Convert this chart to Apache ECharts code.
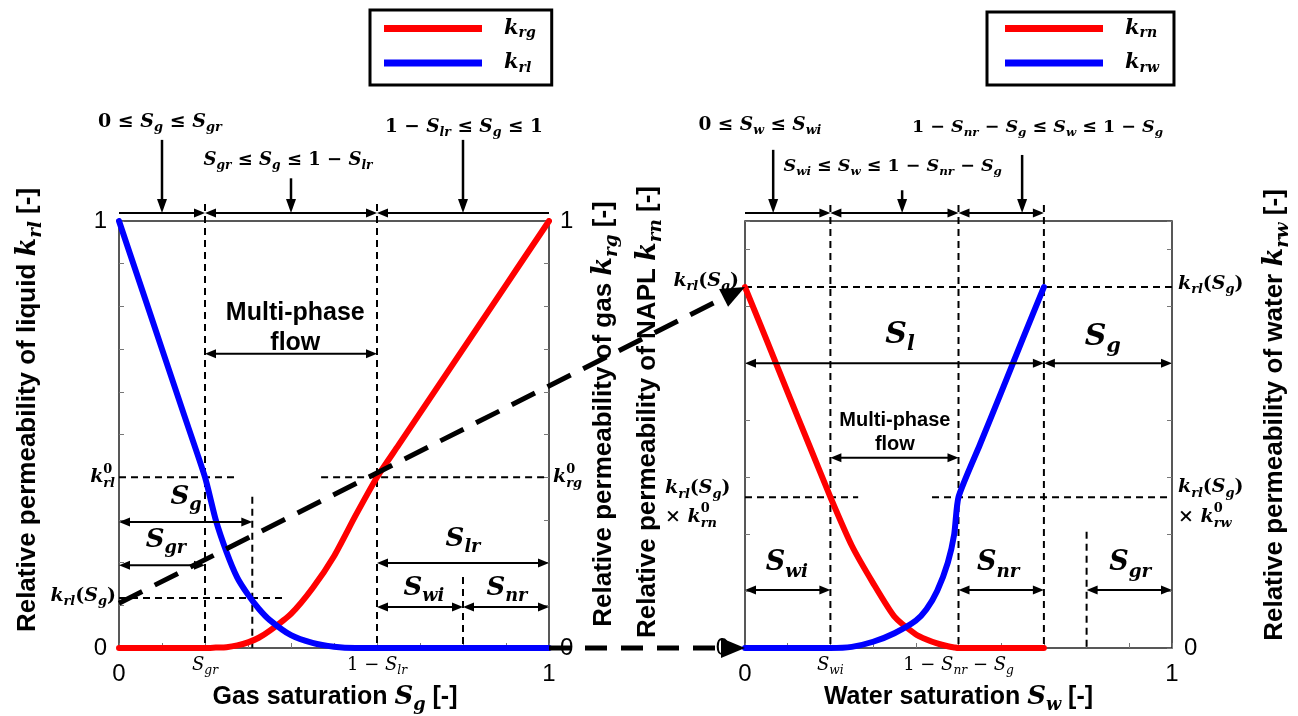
<!DOCTYPE html>
<html>
<head>
<meta charset="utf-8">
<script src="https://cdn.jsdelivr.net/npm/echarts@6/dist/echarts.min.js"></script>
<style>
  html, body { margin: 0; padding: 0; background: #fff; }
  #chart { width: 1298px; height: 716px; }
</style>
</head>
<body>
<div id="chart"></div>
<script>
// ---------- curves: gas / liquid system ----------
const gasSat = [0, 0.05, 0.1, 0.15, 0.2, 0.225, 0.25, 0.275, 0.3, 0.325, 0.35, 0.4, 0.45, 0.5, 0.55, 0.6, 0.65, 0.7, 0.75, 0.8, 0.85, 0.9, 0.95, 1];
const krl = [1, 0.85, 0.70, 0.55, 0.40, 0.30, 0.225, 0.165, 0.125, 0.092, 0.066, 0.03, 0.012, 0.003, 0, 0, 0, 0, 0, 0, 0, 0, 0, 0];
const krg = [0, 0, 0, 0, 0, 0.001, 0.002, 0.006, 0.013, 0.024, 0.04, 0.08, 0.14, 0.215, 0.31, 0.40, 0.475, 0.55, 0.625, 0.70, 0.775, 0.85, 0.925, 1];

// ---------- curves: water / NAPL system (liquid part, scaled) ----------
const waterSat = [0, 0.05, 0.1, 0.15, 0.2, 0.25, 0.3, 0.35, 0.4, 0.425, 0.45, 0.475, 0.49, 0.5, 0.55, 0.6, 0.65, 0.7];
const krn = [0.634, 0.542, 0.449, 0.357, 0.265, 0.18, 0.114, 0.055, 0.024, 0.015, 0.008, 0.003, 0.001, 0, 0, 0, 0, 0];
const krw = [0, 0, 0, 0, 0, 0.002, 0.011, 0.026, 0.048, 0.068, 0.1, 0.15, 0.2, 0.265, 0.357, 0.449, 0.542, 0.634];

// ---------- characteristic saturations and levels ----------
const gasSgr = 0.2, gasSg = 0.31, gasOneMinusSlr = 0.6, gasSwiEnd = 0.8;
const krl0 = 0.4, krg0 = 0.4, krlAtSg = 0.117, krlAtSgStart = 0.105;
const watSwi = 0.2, watOneMinusSnrSg = 0.5, watOneMinusSg = 0.7, watSgrStart = 0.8;
const krlSgLevel = 0.634, krlSgK0Level = 0.265;

// ---------- tick labels ----------
const gasTickLabels = [[0, '0'], [gasSgr, 'S_{gr}'], [gasOneMinusSlr, '1 − S_{lr}'], [1, '1']];
const waterTickLabels = [[0, '0'], [watSwi, 'S_{wi}'], [watOneMinusSnrSg, '1 − S_{nr} − S_g'], [1, '1']];

const SANS = "'Liberation Sans', Arial, sans-serif";
const SERIF = "'DejaVu Serif', serif";
const RED = '#ff0000', BLUE = '#0000ff';

const chart = echarts.init(document.getElementById('chart'), null, { renderer: 'canvas' });

const axisBase = {
  type: 'value',
  axisLine: { show: false },
  axisLabel: { show: false },
  splitLine: { show: false },
  axisTick: { show: true, inside: true, length: 5, lineStyle: { color: '#777', width: 1 } }
};

const legendRich = {
  sp: { width: 17 },
  k: { fontFamily: SERIF, fontStyle: 'italic', fontWeight: 'bold', fontSize: 21, lineHeight: 24, color: '#000' },
  s: { fontFamily: SERIF, fontStyle: 'italic', fontWeight: 'bold', fontSize: 14, lineHeight: 10, verticalAlign: 'bottom', color: '#000' }
};
const legendFmt = n => '{sp| }{k|k}{s|' + n.slice(1) + '}';

function curve(name, xs, ys, color, xi, yi) {
  return {
    name, type: 'line', xAxisIndex: xi, yAxisIndex: yi,
    data: xs.map((x, i) => [x, ys[i]]),
    showSymbol: false, smooth: 0.2, silent: true, z: 3,
    lineStyle: { color, width: 6, cap: 'round', join: 'round' },
    itemStyle: { color }
  };
}

chart.setOption({
  animation: false,
  backgroundColor: '#fff',
  grid: [
    { left: 119, top: 221, width: 430, height: 427, show: true, borderColor: '#222', borderWidth: 1.5, backgroundColor: 'transparent', outerBoundsMode: 'none', containLabel: false },
    { left: 745, top: 221, width: 427, height: 427, show: true, borderColor: '#222', borderWidth: 1.5, backgroundColor: 'transparent', outerBoundsMode: 'none', containLabel: false }
  ],
  xAxis: [
    { ...axisBase, gridIndex: 0, min: 0, max: 1, interval: 0.1 },
    { ...axisBase, gridIndex: 1, min: 0, max: 1, interval: 0.1 }
  ],
  yAxis: [
    { ...axisBase, gridIndex: 0, min: 0, max: 1, interval: 0.1, position: 'left' },
    { ...axisBase, gridIndex: 0, min: 0, max: 1, interval: 0.1, position: 'right' },
    { ...axisBase, gridIndex: 1, min: 0, max: 0.75, interval: 0.1, position: 'left' },
    { ...axisBase, gridIndex: 1, min: 0, max: 0.75, interval: 0.1, position: 'right' }
  ],
  legend: [
    { data: ['krg', 'krl'], left: 370, top: 10, orient: 'vertical', icon: 'rect', itemWidth: 98, itemHeight: 7,
      itemGap: 12, padding: [8, 16, 10, 14], borderColor: '#000', borderWidth: 3, selectedMode: false,
      formatter: legendFmt, textStyle: { rich: legendRich } },
    { data: ['krn', 'krw'], left: 987, top: 12, orient: 'vertical', icon: 'rect', itemWidth: 98, itemHeight: 7,
      itemGap: 12, padding: [6, 15, 10, 18], borderColor: '#000', borderWidth: 3, selectedMode: false,
      formatter: legendFmt, textStyle: { rich: legendRich } }
  ],
  series: [
    curve('krg', gasSat, krg, RED, 0, 0),
    curve('krl', gasSat, krl, BLUE, 0, 0),
    curve('krn', waterSat, krn, RED, 1, 2),
    curve('krw', waterSat, krw, BLUE, 1, 2)
  ]
});

// ---------- annotation helpers ----------
const pL = (x, y) => chart.convertToPixel({ xAxisIndex: 0, yAxisIndex: 0 }, [x, y]);
const pR = (x, y) => chart.convertToPixel({ xAxisIndex: 1, yAxisIndex: 2 }, [x, y]);
const ctx = document.createElement('canvas').getContext('2d');
function measure(t, f) {
  ctx.font = `${f.fontStyle} ${f.fontWeight} ${f.fontSize}px ${f.fontFamily}`;
  return ctx.measureText(t).width;
}
function parseMath(src) {
  const toks = []; let i = 0;
  while (i < src.length) {
    const c = src[i];
    if (c === '_' || c === '^') {
      i++; let g;
      if (src[i] === '{') { const j = src.indexOf('}', i); g = src.slice(i + 1, j); i = j + 1; }
      else { g = src[i]; i++; }
      toks.push({ t: g, lv: c === '_' ? -1 : 1 });
    } else {
      let j = i; while (j < src.length && src[j] !== '_' && src[j] !== '^') j++;
      toks.push({ t: src.slice(i, j), lv: 0 }); i = j;
    }
  }
  return toks;
}
// parts: plain strings (sans) or {m: 'k_{rl}'} (math); returns a graphic group
function textGroup(parts, o) {
  const pcs = []; let x = 0;
  const run = (t, size, dy) => {
    let w = 0;
    for (const seg of (t.match(/[A-Za-z]+|[^A-Za-z]+/g) || [])) {
      const it = /[A-Za-z]/.test(seg);
      const f = { fontStyle: it ? 'italic' : 'normal', fontWeight: o.mbold ? 'bold' : 'normal', fontSize: size, fontFamily: SERIF };
      pcs.push({ t: seg, f, x: x + w, dy });
      w += measure(seg, f);
    }
    return w;
  };
  for (const p of parts) {
    if (typeof p === 'string') {
      const f = { fontStyle: 'normal', fontWeight: o.bold ? 'bold' : 'normal', fontSize: o.size, fontFamily: SANS };
      pcs.push({ t: p, f, x, dy: 0 });
      x += measure(p, f);
      continue;
    }
    const ms = p.size || o.msize, ss = ms * 0.68;
    const toks = parseMath(p.m);
    for (let i = 0; i < toks.length; i++) {
      const tk = toks[i];
      if (tk.lv === 0) { x += run(tk.t, ms, 0); continue; }
      const dyOf = lv => lv < 0 ? ms * 0.32 : -ms * 0.42;
      let w = run(tk.t, ss, dyOf(tk.lv));
      const nx = toks[i + 1];
      if (nx && nx.lv !== 0 && nx.lv !== tk.lv) { w = Math.max(w, run(nx.t, ss, dyOf(nx.lv))); i++; }
      x += w;
    }
  }
  const off = o.align === 'right' ? -x : o.align === 'left' ? 0 : -x / 2;
  return {
    type: 'group', x: o.x, y: o.y, rotation: o.rot || 0, silent: true,
    children: pcs.map(pc => ({
      type: 'text', x: pc.x + off, y: pc.dy, z: 50, silent: true,
      style: Object.assign({ text: pc.t, fill: '#000', align: 'left', verticalAlign: 'middle' }, pc.f)
    }))
  };
}
const M = (src, at, o = {}) => textGroup([{ m: src }], Object.assign({ x: at[0], y: at[1], msize: 20, mbold: true, align: 'center' }, o));
const T = (s, at, o = {}) => textGroup([s], Object.assign({ x: at[0], y: at[1], size: 20, bold: true, align: 'center' }, o));

const G = [];
function seg(a, b, style, z) {
  G.push({ type: 'line', z: z || 1, silent: true, shape: { x1: a[0], y1: a[1], x2: b[0], y2: b[1] }, style: Object.assign({ stroke: '#000', lineWidth: 2 }, style) });
}
function dashed(a, b) { seg(a, b, { lineDash: [7, 5], lineWidth: 2 }, 1); }
function arrow(a, b, heads, opt = {}) {
  const lw = opt.lw || 2, hl = opt.hl || 11, hw = opt.hw || 9, z = opt.z || 10;
  const dx = b[0] - a[0], dy = b[1] - a[1], L = Math.hypot(dx, dy), ux = dx / L, uy = dy / L;
  let s = a.slice(), e = b.slice();
  const head = (tip, vx, vy) => {
    const bx = tip[0] - vx * hl, by = tip[1] - vy * hl;
    G.push({ type: 'polygon', z, silent: true, shape: { points: [tip, [bx - vy * hw / 2, by + vx * hw / 2], [bx + vy * hw / 2, by - vx * hw / 2]] }, style: { fill: '#000' } });
  };
  if (heads[0]) { head(a, -ux, -uy); s = [a[0] + ux * hl * 0.8, a[1] + uy * hl * 0.8]; }
  if (heads[1]) { head(b, ux, uy); e = [b[0] - ux * hl * 0.8, b[1] - uy * hl * 0.8]; }
  seg(s, e, Object.assign({ lineWidth: lw }, opt.dash ? { lineDash: opt.dash } : {}), z);
}

// ---------- gas / liquid panel ----------
dashed(pL(gasSgr, 1.04), pL(gasSgr, 0));
dashed(pL(gasOneMinusSlr, 1.04), pL(gasOneMinusSlr, 0));
dashed(pL(gasSg, 0.354), pL(gasSg, 0));
dashed(pL(gasSwiEnd, 0.166), pL(gasSwiEnd, 0));
dashed(pL(0, krl0), pL(0.272, krl0));
dashed(pL(0.47, krg0), pL(1, krg0));
dashed(pL(0, krlAtSg), pL(0.388, krlAtSg));

const yBrL = 1.019;
arrow(pL(0, yBrL), pL(gasSgr, yBrL), [0, 1]);
arrow(pL(gasSgr, yBrL), pL(gasOneMinusSlr, yBrL), [1, 1]);
arrow(pL(gasOneMinusSlr, yBrL), pL(1, yBrL), [1, 0]);
arrow(pL(0.1, 1.19), pL(0.1, yBrL), [0, 1], { lw: 2.5, hl: 14, hw: 10 });
arrow(pL(0.4, 1.10), pL(0.4, yBrL), [0, 1], { lw: 2.5, hl: 14, hw: 10 });
arrow(pL(0.8, 1.19), pL(0.8, yBrL), [0, 1], { lw: 2.5, hl: 14, hw: 10 });
arrow(pL(gasSgr, 0.689), pL(gasOneMinusSlr, 0.689), [1, 1]);
arrow(pL(0, 0.295), pL(gasSg, 0.295), [1, 1]);
arrow(pL(0, 0.194), pL(gasSgr, 0.194), [1, 1]);
arrow(pL(gasOneMinusSlr, 0.199), pL(1, 0.199), [1, 1]);
arrow(pL(gasOneMinusSlr, 0.096), pL(gasSwiEnd, 0.096), [1, 1]);
arrow(pL(gasSwiEnd, 0.096), pL(1, 0.096), [1, 1]);

G.push(M('0 ≤ S_g ≤ S_{gr}', pL(0.095, 1.232), { msize: 19 }));
G.push(M('S_{gr} ≤ S_g ≤ 1 − S_{lr}', pL(0.393, 1.143), { msize: 18 }));
G.push(M('1 − S_{lr} ≤ S_g ≤ 1', pL(0.802, 1.22), { msize: 18.5 }));
G.push(T('Multi-phase', pL(0.41, 0.785), { size: 25 }));
G.push(T('flow', pL(0.41, 0.715), { size: 25 }));
G.push(M('S_g', pL(0.156, 0.354), { msize: 26 }));
G.push(M('S_{gr}', pL(0.109, 0.253), { msize: 26 }));
G.push(M('S_{lr}', pL(0.8, 0.255), { msize: 26 }));
G.push(M('S_{wi}', pL(0.709, 0.14), { msize: 26 }));
G.push(M('S_{nr}', pL(0.902, 0.14), { msize: 26 }));

// axis-side labels
{
  const a0 = pL(0, 1), a1 = pL(1, 1);
  G.push(T('1', [a0[0] - 12, pL(0, 1)[1]], { bold: false, size: 24, align: 'right' }));
  G.push(T('0', [a0[0] - 12, pL(0, 0)[1]], { bold: false, size: 24, align: 'right' }));
  G.push(M('k^0_{rl}', [a0[0] - 4, pL(0, krl0)[1]], { msize: 19, align: 'right' }));
  G.push(M('k_{rl}(S_g)', [a0[0] - 3, pL(0, krlAtSg)[1] - 2], { msize: 19, align: 'right' }));
  G.push(T('1', [a1[0] + 11, pL(1, 1)[1]], { bold: false, size: 24, align: 'left' }));
  G.push(T('0', [a1[0] + 11, pL(1, 0)[1]], { bold: false, size: 24, align: 'left' }));
  G.push(M('k^0_{rg}', [a1[0] + 4, pL(1, krg0)[1]], { msize: 19, align: 'left' }));
  for (const [v, s] of gasTickLabels) {
    const p = pL(v, 0);
    if (s.length === 1) G.push(T(s, [p[0], p[1] + 26], { bold: false, size: 24 }));
    else G.push(M(s, [p[0], p[1] + 17], { msize: 18, mbold: false }));
  }
}

// ---------- water / NAPL panel ----------
dashed(pR(watSwi, 0.778), pR(watSwi, 0));
dashed(pR(watOneMinusSnrSg, 0.778), pR(watOneMinusSnrSg, 0));
dashed(pR(watOneMinusSg, 0.778), pR(watOneMinusSg, 0));
dashed(pR(watSgrStart, 0.204), pR(watSgrStart, 0));
dashed(pR(0, krlSgLevel), pR(1, krlSgLevel));
dashed(pR(0, krlSgK0Level), pR(0.265, krlSgK0Level));
dashed(pR(0.438, krlSgK0Level), pR(1, krlSgK0Level));

const yBrR = 0.764;
arrow(pR(0, yBrR), pR(watSwi, yBrR), [0, 1]);
arrow(pR(watSwi, yBrR), pR(watOneMinusSnrSg, yBrR), [1, 1]);
arrow(pR(watOneMinusSnrSg, yBrR), pR(watOneMinusSg, yBrR), [1, 1]);
arrow(pR(0.066, 0.875), pR(0.066, yBrR), [0, 1], { lw: 2.5, hl: 14, hw: 10 });
arrow(pR(0.368, 0.804), pR(0.368, yBrR), [0, 1], { lw: 2.5, hl: 14, hw: 10 });
arrow(pR(0.649, 0.866), pR(0.649, yBrR), [0, 1], { lw: 2.5, hl: 14, hw: 10 });
arrow(pR(0, 0.5), pR(watOneMinusSg, 0.5), [1, 1]);
arrow(pR(watOneMinusSg, 0.5), pR(1, 0.5), [1, 1]);
arrow(pR(watSwi, 0.334), pR(watOneMinusSnrSg, 0.334), [1, 1]);
arrow(pR(0, 0.102), pR(watSwi, 0.102), [1, 1]);
arrow(pR(watOneMinusSnrSg, 0.102), pR(watOneMinusSg, 0.102), [1, 1]);
arrow(pR(watSgrStart, 0.102), pR(1, 0.102), [1, 1]);

G.push(M('0 ≤ S_w ≤ S_{wi}', pR(0.035, 0.919), { msize: 18.5 }));
G.push(M('S_{wi} ≤ S_w ≤ 1 − S_{nr} − S_g', pR(0.346, 0.846), { msize: 17.5 }));
G.push(M('1 − S_{nr} − S_g ≤ S_w ≤ 1 − S_g', pR(0.685, 0.915), { msize: 17.5 }));
G.push(T('Multi-phase', pR(0.351, 0.4), { size: 20 }));
G.push(T('flow', pR(0.351, 0.358), { size: 20 }));
G.push(M('S_l', pR(0.363, 0.55), { msize: 30 }));
G.push(M('S_g', pR(0.838, 0.546), { msize: 30 }));
G.push(M('S_{wi}', pR(0.098, 0.149), { msize: 27 }));
G.push(M('S_{nr}', pR(0.593, 0.149), { msize: 27 }));
G.push(M('S_{gr}', pR(0.902, 0.149), { msize: 27 }));

{
  const a0 = pR(0, 0), a1 = pR(1, 0);
  G.push(M('k_{rl}(S_g)', [a0[0] - 6, pR(0, krlSgLevel)[1] - 6], { msize: 19, align: 'right' }));
  G.push(M('k_{rl}(S_g)', [a0[0] - 80, pR(0, krlSgK0Level)[1] - 9], { msize: 19, align: 'left' }));
  G.push(M('× k^0_{rn}', [a0[0] - 80, pR(0, krlSgK0Level)[1] + 20], { msize: 19, align: 'left' }));
  G.push(T('0', [a0[0] - 16, a0[1]], { bold: false, size: 24, align: 'right' }));
  G.push(M('k_{rl}(S_g)', [a1[0] + 6, pR(1, krlSgLevel)[1] - 3], { msize: 19, align: 'left' }));
  G.push(M('k_{rl}(S_g)', [a1[0] + 6, pR(1, krlSgK0Level)[1] - 10], { msize: 19, align: 'left' }));
  G.push(M('× k^0_{rw}', [a1[0] + 6, pR(1, krlSgK0Level)[1] + 20], { msize: 19, align: 'left' }));
  G.push(T('0', [a1[0] + 12, a1[1]], { bold: false, size: 24, align: 'left' }));
  for (const [v, s] of waterTickLabels) {
    const p = pR(v, 0);
    if (s.length === 1) G.push(T(s, [p[0], p[1] + 26], { bold: false, size: 24 }));
    else G.push(M(s, [p[0], p[1] + 17], { msize: 18, mbold: false }));
  }
}

// ---------- thick dashed links between the two panels ----------
arrow(pL(0, krlAtSgStart), pR(0, krlSgLevel), [0, 1], { lw: 5, hl: 24, hw: 20, dash: [26, 14], z: 30 });
arrow(pL(1, 0), pR(0, 0), [0, 1], { lw: 5, hl: 24, hw: 20, dash: [22, 14], z: 30 });

// ---------- axis titles ----------
const xTitleOpt = { size: 25, bold: true, msize: 26, mbold: true };
const yTitleOpt = { size: 26, bold: true, msize: 27, mbold: true };
{
  const gl = pL(0, 0), gr = pL(1, 0), wl = pR(0, 0), wr = pR(1, 0);
  G.push(textGroup(['Relative permeability of liquid ', { m: 'k_{rl}' }, ' [-]'], Object.assign({ x: gl[0] - 91, y: 410, rot: Math.PI / 2 }, yTitleOpt)));
  G.push(textGroup(['Relative permeability of gas ', { m: 'k_{rg}' }, ' [-]'], Object.assign({ x: gr[0] + 55, y: 414, rot: Math.PI / 2 }, yTitleOpt)));
  G.push(textGroup(['Relative permeability of NAPL ', { m: 'k_{rn}' }, ' [-]'], Object.assign({ x: wl[0] - 97, y: 412, rot: Math.PI / 2 }, yTitleOpt)));
  G.push(textGroup(['Relative permeability of water ', { m: 'k_{rw}' }, ' [-]'], Object.assign({ x: wr[0] + 103, y: 415, rot: Math.PI / 2 }, yTitleOpt)));
  G.push(textGroup(['Gas saturation ', { m: 'S_g' }, ' [-]'], Object.assign({ x: (gl[0] + gr[0]) / 2 + 1, y: gl[1] + 49 }, xTitleOpt)));
  G.push(textGroup(['Water saturation ', { m: 'S_w' }, ' [-]'], Object.assign({ x: (wl[0] + wr[0]) / 2 + 0, y: wl[1] + 49 }, xTitleOpt)));
}

chart.setOption({ graphic: { elements: G } });
</script>
</body>
</html>
